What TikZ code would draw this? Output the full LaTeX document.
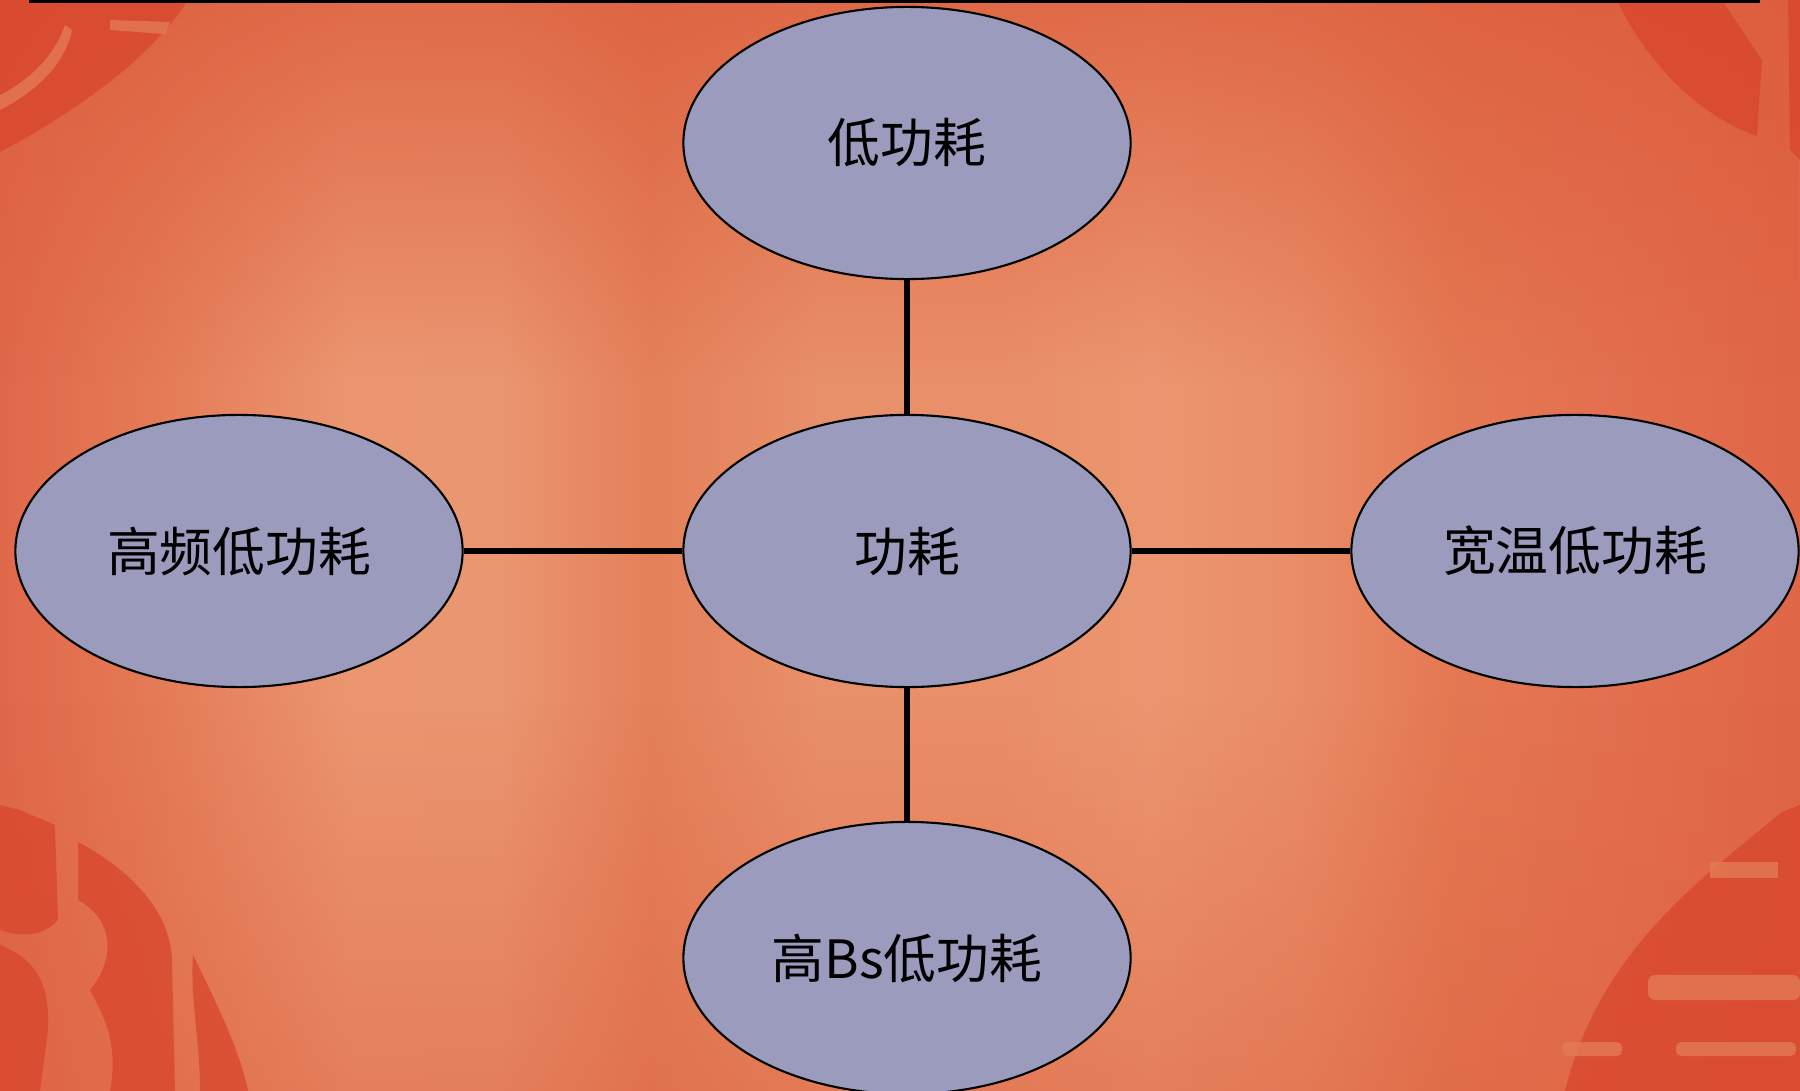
\documentclass[tikz,border=0pt]{standalone}
\usepackage{fontspec}
\setmainfont{Noto Sans CJK SC}
\usetikzlibrary{shapes.geometric,fadings}

\definecolor{bubblefill}{RGB}{155,155,190}
\definecolor{sealred}{HTML}{D8452C}
\definecolor{shadowred}{HTML}{DC5C3C}
\definecolor{bgA}{HTML}{E0684A}
\definecolor{bgB}{HTML}{E47A56}
\definecolor{bgC}{HTML}{EB9670}
\definecolor{bgD}{HTML}{EA9670}
\definecolor{bgE}{HTML}{E4805A}
\definecolor{bgF}{HTML}{E8906A}
\definecolor{bgG}{HTML}{E98F69}
\definecolor{bgH}{HTML}{EB9670}
\definecolor{bgI}{HTML}{E98D67}
\definecolor{bgJ}{HTML}{E47853}
\definecolor{bgK}{HTML}{E37050}
\definecolor{bgL}{HTML}{DF6646}

\tikzfading[name=fadetop, top color=transparent!25, bottom color=transparent!100]
\tikzfading[name=fadebottom, top color=transparent!100, bottom color=transparent!60]

\begin{document}
\begin{tikzpicture}[x=0.01cm,y=-0.01cm,
            bubble/.style={draw,ellipse,fill=bubblefill,line width=0.6pt,minimum width=4.47cm,minimum height=2.72cm,inner sep=0pt,font=\fontsize{15}{18}\selectfont},
            link/.style={draw,line width=1.7pt},
            wide/.style={link,line width=1.85pt},
            seal/.style={fill=sealred,opacity=0.75},
            gap/.style={fill=bgB,opacity=0.8}
          ]
          \useasboundingbox (0,0) rectangle (1800,1091);

          %curtain
          \foreach \xa/\xb/\ca/\cb in {0/150/bgA/bgB,150/350/bgB/bgC,350/500/bgC/bgD,500/650/bgD/bgE,
                                       650/820/bgE/bgF,820/1000/bgF/bgG,1000/1150/bgG/bgH,1150/1300/bgH/bgI,
                                       1300/1450/bgI/bgJ,1450/1600/bgJ/bgK,1600/1800/bgK/bgL}
            \shade[left color=\ca,right color=\cb] (\xa,0) rectangle (\xb+1,1091);
          \fill[shadowred,path fading=fadetop] (0,0) rectangle (1800,380);
          \fill[shadowred,path fading=fadebottom] (0,700) rectangle (1800,1091);

          %corner seals
          \fill[seal] (0,0) -- (188,0) .. controls (150,60) and (70,115) .. (0,152) -- cycle;
          \fill[gap] (110,20) -- (170,22) -- (165,34) -- (110,30) -- cycle;
          \fill[gap] (0,95) .. controls (30,80) and (55,55) .. (65,25) -- (72,30) .. controls (65,65) and (35,92) .. (0,110) -- cycle;
          \fill[seal] (1617,0) .. controls (1650,70) and (1705,118) .. (1757,136) -- (1762,60) -- (1722,0) -- cycle;
          \fill[seal] (1788,0) -- (1800,0) -- (1800,160) -- (1790,150) -- cycle;
          \fill[seal] (0,805) -- (20,810) -- (55,825) -- (58,920) .. controls (40,940) and (15,935) .. (0,930) -- cycle;
          \fill[seal] (78,842) .. controls (130,870) and (170,910) .. (172,960)
                      -- (175,1091) -- (110,1091) .. controls (120,1040) and (100,1010) .. (90,990)
                      .. controls (115,960) and (115,920) .. (78,900) -- cycle;
          \fill[seal] (0,945) .. controls (40,960) and (50,990) .. (48,1030) -- (40,1091) -- (0,1091) -- cycle;
          \fill[seal] (193,955) .. controls (215,1000) and (240,1050) .. (248,1091) -- (200,1091) .. controls (200,1040) and (190,1000) .. (193,955) -- cycle;
          \fill[seal] (1800,805) -- (1782,812) .. controls (1700,880) and (1600,950) .. (1565,1091) -- (1800,1091) -- cycle;
          \fill[gap] (1710,862) rectangle (1778,878);
          \fill[gap, rounded corners=2pt] (1648,975) rectangle (1800,1000);
          \fill[gap, rounded corners=1.5pt] (1562,1042) rectangle (1622,1056);
          \fill[gap, rounded corners=1.5pt] (1676,1042) rectangle (1796,1056);

          %rule on top
          \draw[line width=1pt] (29,1) -- (1760,1);

          %bubbles
          \node[bubble] (power) at (907,551) {功耗};
          \node[bubble] (low) at (907,143) {低功耗};
          \node[bubble] (freq) at (239,551) {高频低功耗};
          \node[bubble] (temp) at (1575,551) {宽温低功耗};
          \node[bubble] (bs) at (907,958) {高Bs低功耗};

          %links
          \path[link] (low) -- (power);
          \path[link] (power) -- (bs);
          \path[wide] (freq) -- (power);
          \path[wide] (power) -- (temp);
      \end{tikzpicture}
\end{document}
